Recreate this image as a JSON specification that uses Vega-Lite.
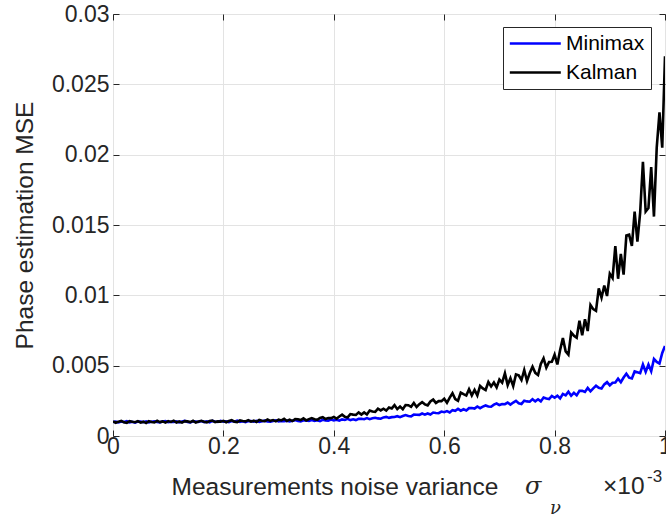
{
  "$schema": "https://vega.github.io/schema/vega-lite/v6.json",
  "width": 552,
  "height": 422,
  "autosize": {"type": "none"},
  "padding": {"left": 113, "top": 14, "right": 1, "bottom": 81},
  "background": "white",
  "config": {
    "view": {"stroke": "#262626", "strokeWidth": 1},
    "axis": {
      "labelFont": "Liberation Sans",
      "titleFont": "Liberation Sans",
      "labelColor": "#262626",
      "titleColor": "#262626",
      "tickColor": "#262626",
      "domain": false,
      "gridColor": "#e3e3e3",
      "gridWidth": 1,
      "titleFontWeight": "normal",
      "labelFontSize": 23,
      "titleFontSize": 24.5,
      "labelFlush": false
    },
    "text": {"font": "Liberation Sans", "color": "#262626"}
  },
  "datasets": {
    "mse": [
      {"x":0,"Minimax":0.00099,"Kalman":0.00104},
      {"x":0.005,"Minimax":0.00102,"Kalman":0.00094},
      {"x":0.01,"Minimax":0.00096,"Kalman":0.00102},
      {"x":0.015,"Minimax":0.00103,"Kalman":0.00107},
      {"x":0.02,"Minimax":0.00099,"Kalman":0.00097},
      {"x":0.025,"Minimax":0.00105,"Kalman":0.00093},
      {"x":0.03,"Minimax":0.00097,"Kalman":0.00105},
      {"x":0.035,"Minimax":0.00101,"Kalman":0.00101},
      {"x":0.04,"Minimax":0.00095,"Kalman":0.00098},
      {"x":0.045,"Minimax":0.00103,"Kalman":0.00106},
      {"x":0.05,"Minimax":0.00102,"Kalman":0.00095},
      {"x":0.055,"Minimax":0.00098,"Kalman":0.00102},
      {"x":0.06,"Minimax":0.00104,"Kalman":0.00092},
      {"x":0.065,"Minimax":0.00096,"Kalman":0.00106},
      {"x":0.07,"Minimax":0.00101,"Kalman":0.00100},
      {"x":0.075,"Minimax":0.00104,"Kalman":0.00096},
      {"x":0.08,"Minimax":0.00099,"Kalman":0.00108},
      {"x":0.085,"Minimax":0.00097,"Kalman":0.00099},
      {"x":0.09,"Minimax":0.00103,"Kalman":0.00104},
      {"x":0.095,"Minimax":0.00106,"Kalman":0.00095},
      {"x":0.1,"Minimax":0.00098,"Kalman":0.00106},
      {"x":0.105,"Minimax":0.00101,"Kalman":0.00100},
      {"x":0.11,"Minimax":0.00100,"Kalman":0.00109},
      {"x":0.115,"Minimax":0.00104,"Kalman":0.00096},
      {"x":0.12,"Minimax":0.00097,"Kalman":0.00103},
      {"x":0.125,"Minimax":0.00103,"Kalman":0.00095},
      {"x":0.13,"Minimax":0.00107,"Kalman":0.00106},
      {"x":0.135,"Minimax":0.00100,"Kalman":0.00104},
      {"x":0.14,"Minimax":0.00097,"Kalman":0.00099},
      {"x":0.145,"Minimax":0.00105,"Kalman":0.00108},
      {"x":0.15,"Minimax":0.00103,"Kalman":0.00096},
      {"x":0.155,"Minimax":0.00100,"Kalman":0.00103},
      {"x":0.16,"Minimax":0.00106,"Kalman":0.00108},
      {"x":0.165,"Minimax":0.00099,"Kalman":0.00101},
      {"x":0.17,"Minimax":0.00104,"Kalman":0.00097},
      {"x":0.175,"Minimax":0.00097,"Kalman":0.00106},
      {"x":0.18,"Minimax":0.00107,"Kalman":0.00110},
      {"x":0.185,"Minimax":0.00103,"Kalman":0.00099},
      {"x":0.19,"Minimax":0.00100,"Kalman":0.00104},
      {"x":0.195,"Minimax":0.00108,"Kalman":0.00102},
      {"x":0.2,"Minimax":0.00102,"Kalman":0.00108},
      {"x":0.205,"Minimax":0.00105,"Kalman":0.00098},
      {"x":0.21,"Minimax":0.00099,"Kalman":0.00107},
      {"x":0.215,"Minimax":0.00106,"Kalman":0.00112},
      {"x":0.22,"Minimax":0.00102,"Kalman":0.00102},
      {"x":0.225,"Minimax":0.00109,"Kalman":0.00099},
      {"x":0.23,"Minimax":0.00101,"Kalman":0.00111},
      {"x":0.235,"Minimax":0.00105,"Kalman":0.00107},
      {"x":0.24,"Minimax":0.00099,"Kalman":0.00104},
      {"x":0.245,"Minimax":0.00107,"Kalman":0.00113},
      {"x":0.25,"Minimax":0.00106,"Kalman":0.00102},
      {"x":0.255,"Minimax":0.00102,"Kalman":0.00109},
      {"x":0.26,"Minimax":0.00108,"Kalman":0.00100},
      {"x":0.265,"Minimax":0.00100,"Kalman":0.00114},
      {"x":0.27,"Minimax":0.00105,"Kalman":0.00109},
      {"x":0.275,"Minimax":0.00109,"Kalman":0.00105},
      {"x":0.28,"Minimax":0.00103,"Kalman":0.00117},
      {"x":0.285,"Minimax":0.00101,"Kalman":0.00108},
      {"x":0.29,"Minimax":0.00107,"Kalman":0.00113},
      {"x":0.295,"Minimax":0.00111,"Kalman":0.00104},
      {"x":0.3,"Minimax":0.00103,"Kalman":0.00116},
      {"x":0.305,"Minimax":0.00106,"Kalman":0.00111},
      {"x":0.31,"Minimax":0.00105,"Kalman":0.00122},
      {"x":0.315,"Minimax":0.00109,"Kalman":0.00107},
      {"x":0.32,"Minimax":0.00103,"Kalman":0.00116},
      {"x":0.325,"Minimax":0.00109,"Kalman":0.00106},
      {"x":0.33,"Minimax":0.00113,"Kalman":0.00120},
      {"x":0.335,"Minimax":0.00106,"Kalman":0.00119},
      {"x":0.34,"Minimax":0.00103,"Kalman":0.00113},
      {"x":0.345,"Minimax":0.00112,"Kalman":0.00125},
      {"x":0.35,"Minimax":0.00110,"Kalman":0.00111},
      {"x":0.355,"Minimax":0.00107,"Kalman":0.00120},
      {"x":0.36,"Minimax":0.00113,"Kalman":0.00127},
      {"x":0.365,"Minimax":0.00107,"Kalman":0.00119},
      {"x":0.37,"Minimax":0.00112,"Kalman":0.00115},
      {"x":0.375,"Minimax":0.00106,"Kalman":0.00128},
      {"x":0.38,"Minimax":0.00115,"Kalman":0.00134},
      {"x":0.385,"Minimax":0.00111,"Kalman":0.00121},
      {"x":0.39,"Minimax":0.00109,"Kalman":0.00128},
      {"x":0.395,"Minimax":0.00117,"Kalman":0.00127},
      {"x":0.4,"Minimax":0.00111,"Kalman":0.00135},
      {"x":0.405,"Minimax":0.00115,"Kalman":0.00123},
      {"x":0.41,"Minimax":0.00109,"Kalman":0.00139},
      {"x":0.415,"Minimax":0.00118,"Kalman":0.00152},
      {"x":0.42,"Minimax":0.00114,"Kalman":0.00136},
      {"x":0.425,"Minimax":0.00122,"Kalman":0.00132},
      {"x":0.43,"Minimax":0.00113,"Kalman":0.00156},
      {"x":0.435,"Minimax":0.00119,"Kalman":0.00152},
      {"x":0.44,"Minimax":0.00113,"Kalman":0.00150},
      {"x":0.445,"Minimax":0.00122,"Kalman":0.00168},
      {"x":0.45,"Minimax":0.00122,"Kalman":0.00152},
      {"x":0.455,"Minimax":0.00119,"Kalman":0.00168},
      {"x":0.46,"Minimax":0.00127,"Kalman":0.00153},
      {"x":0.465,"Minimax":0.00120,"Kalman":0.00181},
      {"x":0.47,"Minimax":0.00126,"Kalman":0.00174},
      {"x":0.475,"Minimax":0.00130,"Kalman":0.00171},
      {"x":0.48,"Minimax":0.00125,"Kalman":0.00194},
      {"x":0.485,"Minimax":0.00123,"Kalman":0.00182},
      {"x":0.49,"Minimax":0.00132,"Kalman":0.00194},
      {"x":0.495,"Minimax":0.00136,"Kalman":0.00181},
      {"x":0.5,"Minimax":0.00129,"Kalman":0.00203},
      {"x":0.505,"Minimax":0.00134,"Kalman":0.00196},
      {"x":0.51,"Minimax":0.00135,"Kalman":0.00220},
      {"x":0.515,"Minimax":0.00141,"Kalman":0.00191},
      {"x":0.52,"Minimax":0.00134,"Kalman":0.00209},
      {"x":0.525,"Minimax":0.00142,"Kalman":0.00190},
      {"x":0.53,"Minimax":0.00149,"Kalman":0.00220},
      {"x":0.535,"Minimax":0.00142,"Kalman":0.00219},
      {"x":0.54,"Minimax":0.00140,"Kalman":0.00207},
      {"x":0.545,"Minimax":0.00152,"Kalman":0.00234},
      {"x":0.55,"Minimax":0.00151,"Kalman":0.00206},
      {"x":0.555,"Minimax":0.00150,"Kalman":0.00226},
      {"x":0.56,"Minimax":0.00160,"Kalman":0.00241},
      {"x":0.565,"Minimax":0.00152,"Kalman":0.00225},
      {"x":0.57,"Minimax":0.00160,"Kalman":0.00218},
      {"x":0.575,"Minimax":0.00153,"Kalman":0.00246},
      {"x":0.58,"Minimax":0.00167,"Kalman":0.00259},
      {"x":0.585,"Minimax":0.00164,"Kalman":0.00235},
      {"x":0.59,"Minimax":0.00162,"Kalman":0.00248},
      {"x":0.595,"Minimax":0.00174,"Kalman":0.00248},
      {"x":0.6,"Minimax":0.00169,"Kalman":0.00265},
      {"x":0.605,"Minimax":0.00177,"Kalman":0.00236},
      {"x":0.61,"Minimax":0.00167,"Kalman":0.00273},
      {"x":0.615,"Minimax":0.00184,"Kalman":0.00304},
      {"x":0.62,"Minimax":0.00179,"Kalman":0.00263},
      {"x":0.625,"Minimax":0.00193,"Kalman":0.00251},
      {"x":0.63,"Minimax":0.00180,"Kalman":0.00309},
      {"x":0.635,"Minimax":0.00190,"Kalman":0.00298},
      {"x":0.64,"Minimax":0.00182,"Kalman":0.00288},
      {"x":0.645,"Minimax":0.00198,"Kalman":0.00333},
      {"x":0.65,"Minimax":0.00199,"Kalman":0.00289},
      {"x":0.655,"Minimax":0.00195,"Kalman":0.00328},
      {"x":0.66,"Minimax":0.00210,"Kalman":0.00289},
      {"x":0.665,"Minimax":0.00198,"Kalman":0.00356},
      {"x":0.67,"Minimax":0.00209,"Kalman":0.00338},
      {"x":0.675,"Minimax":0.00217,"Kalman":0.00327},
      {"x":0.68,"Minimax":0.00210,"Kalman":0.00384},
      {"x":0.685,"Minimax":0.00208,"Kalman":0.00352},
      {"x":0.69,"Minimax":0.00223,"Kalman":0.00380},
      {"x":0.695,"Minimax":0.00231,"Kalman":0.00345},
      {"x":0.7,"Minimax":0.00220,"Kalman":0.00401},
      {"x":0.705,"Minimax":0.00227,"Kalman":0.00379},
      {"x":0.71,"Minimax":0.00226,"Kalman":0.00445},
      {"x":0.715,"Minimax":0.00238,"Kalman":0.00362},
      {"x":0.72,"Minimax":0.00223,"Kalman":0.00411},
      {"x":0.725,"Minimax":0.00238,"Kalman":0.00355},
      {"x":0.73,"Minimax":0.00250,"Kalman":0.00438},
      {"x":0.735,"Minimax":0.00233,"Kalman":0.00432},
      {"x":0.74,"Minimax":0.00228,"Kalman":0.00398},
      {"x":0.745,"Minimax":0.00251,"Kalman":0.00469},
      {"x":0.75,"Minimax":0.00246,"Kalman":0.00391},
      {"x":0.755,"Minimax":0.00244,"Kalman":0.00448},
      {"x":0.76,"Minimax":0.00262,"Kalman":0.00493},
      {"x":0.765,"Minimax":0.00246,"Kalman":0.00449},
      {"x":0.77,"Minimax":0.00261,"Kalman":0.00434},
      {"x":0.775,"Minimax":0.00246,"Kalman":0.00512},
      {"x":0.78,"Minimax":0.00273,"Kalman":0.00552},
      {"x":0.785,"Minimax":0.00266,"Kalman":0.00486},
      {"x":0.79,"Minimax":0.00262,"Kalman":0.00526},
      {"x":0.795,"Minimax":0.00285,"Kalman":0.00527},
      {"x":0.8,"Minimax":0.00272,"Kalman":0.00578},
      {"x":0.805,"Minimax":0.00287,"Kalman":0.00509},
      {"x":0.81,"Minimax":0.00267,"Kalman":0.00612},
      {"x":0.815,"Minimax":0.00299,"Kalman":0.00697},
      {"x":0.82,"Minimax":0.00289,"Kalman":0.00602},
      {"x":0.825,"Minimax":0.00315,"Kalman":0.00579},
      {"x":0.83,"Minimax":0.00287,"Kalman":0.00736},
      {"x":0.835,"Minimax":0.00307,"Kalman":0.00713},
      {"x":0.84,"Minimax":0.00289,"Kalman":0.00699},
      {"x":0.845,"Minimax":0.00321,"Kalman":0.00820},
      {"x":0.85,"Minimax":0.00321,"Kalman":0.00716},
      {"x":0.855,"Minimax":0.00313,"Kalman":0.00830},
      {"x":0.86,"Minimax":0.00342,"Kalman":0.00746},
      {"x":0.865,"Minimax":0.00318,"Kalman":0.00932},
      {"x":0.87,"Minimax":0.00339,"Kalman":0.00902},
      {"x":0.875,"Minimax":0.00357,"Kalman":0.00890},
      {"x":0.88,"Minimax":0.00342,"Kalman":0.01049},
      {"x":0.885,"Minimax":0.00338,"Kalman":0.00983},
      {"x":0.89,"Minimax":0.00367,"Kalman":0.01070},
      {"x":0.895,"Minimax":0.00383,"Kalman":0.00995},
      {"x":0.9,"Minimax":0.00360,"Kalman":0.01154},
      {"x":0.905,"Minimax":0.00378,"Kalman":0.01123},
      {"x":0.91,"Minimax":0.00380,"Kalman":0.01350},
      {"x":0.915,"Minimax":0.00408,"Kalman":0.01118},
      {"x":0.92,"Minimax":0.00382,"Kalman":0.01294},
      {"x":0.925,"Minimax":0.00416,"Kalman":0.01147},
      {"x":0.93,"Minimax":0.00443,"Kalman":0.01425},
      {"x":0.935,"Minimax":0.00415,"Kalman":0.01431},
      {"x":0.94,"Minimax":0.00409,"Kalman":0.01352},
      {"x":0.945,"Minimax":0.00459,"Kalman":0.01596},
      {"x":0.95,"Minimax":0.00453,"Kalman":0.01381},
      {"x":0.955,"Minimax":0.00447,"Kalman":0.01588},
      {"x":0.96,"Minimax":0.00508,"Kalman":0.01950},
      {"x":0.965,"Minimax":0.00456,"Kalman":0.01596},
      {"x":0.97,"Minimax":0.00508,"Kalman":0.01620},
      {"x":0.975,"Minimax":0.00460,"Kalman":0.01912},
      {"x":0.98,"Minimax":0.00548,"Kalman":0.01560},
      {"x":0.985,"Minimax":0.00527,"Kalman":0.02050},
      {"x":0.99,"Minimax":0.00515,"Kalman":0.02300},
      {"x":0.995,"Minimax":0.00590,"Kalman":0.02050},
      {"x":1,"Minimax":0.00640,"Kalman":0.02700}
    ],
    "one": [{}]
  },
  "resolve": {"axis": {"x": "independent", "y": "independent"}},
  "layer": [
    {
      "data": {"name": "mse"},
      "mark": {"type": "line", "strokeWidth": 2.6, "clip": true},
      "encoding": {
        "x": {
          "field": "x", "type": "quantitative",
          "scale": {"domain": [0, 1], "nice": false, "zero": false},
          "axis": {
            "orient": "bottom",
            "values": [0, 0.2, 0.4, 0.6, 0.8, 1],
            "format": "~g",
            "tickSize": -6,
            "labelPadding": 5,
            "grid": true,
            "title": "Measurements noise variance",
            "titleX": 58, "titleY": 58,
            "titleAlign": "left", "titleBaseline": "alphabetic"
          }
        },
        "y": {
          "field": "Minimax", "type": "quantitative",
          "scale": {"domain": [0, 0.03], "nice": false},
          "axis": {
            "orient": "left",
            "values": [0, 0.005, 0.01, 0.015, 0.02, 0.025, 0.03],
            "format": "~g",
            "tickSize": -6,
            "labelPadding": 10,
            "grid": true,
            "title": "Phase estimation MSE",
            "titleX": -81, "titleY": 211,
            "titleAlign": "center", "titleBaseline": "alphabetic"
          }
        },
        "color": {
          "datum": "Minimax", "type": "nominal",
          "scale": {"domain": ["Minimax", "Kalman"], "range": ["#0000ff", "#000000"]},
          "legend": {
            "orient": "none", "legendX": 390, "legendY": 13,
            "title": null,
            "symbolType": "M-1.9,0H8.1", "symbolSize": 104, "symbolStrokeWidth": 2.5,
            "labelFont": "Liberation Sans", "labelFontSize": 21, "labelColor": "#000000",
            "labelOffset": 36, "rowPadding": 7, "padding": 6,
            "strokeColor": "#262626", "fillColor": "white", "cornerRadius": 0
          }
        }
      }
    },
    {
      "data": {"name": "mse"},
      "mark": {"type": "line", "strokeWidth": 2.6, "clip": true},
      "encoding": {
        "x": {
          "field": "x", "type": "quantitative",
          "axis": {"orient": "top", "values": [0, 0.2, 0.4, 0.6, 0.8, 1], "labels": false, "tickSize": -6, "grid": false, "title": null}
        },
        "y": {
          "field": "Kalman", "type": "quantitative",
          "axis": {"orient": "right", "values": [0, 0.005, 0.01, 0.015, 0.02, 0.025, 0.03], "labels": false, "tickSize": -6, "grid": false, "title": null}
        },
        "color": {"datum": "Kalman", "type": "nominal"}
      }
    },
    {
      "data": {"name": "one"},
      "mark": {"type": "text", "text": "σ", "font": "DejaVu Serif", "fontStyle": "italic", "fontSize": 24, "align": "left", "baseline": "alphabetic", "dx": -140, "dy": 58, "color": "#262626"},
      "encoding": {"x": {"datum": 1, "type": "quantitative", "axis": null}, "y": {"datum": 0, "type": "quantitative", "axis": null}}
    },
    {
      "data": {"name": "one"},
      "mark": {"type": "text", "text": "ν", "font": "DejaVu Serif", "fontStyle": "italic", "fontSize": 18, "align": "left", "baseline": "alphabetic", "dx": -115, "dy": 78, "color": "#262626"},
      "encoding": {"x": {"datum": 1, "type": "quantitative", "axis": null}, "y": {"datum": 0, "type": "quantitative", "axis": null}}
    },
    {
      "data": {"name": "one"},
      "mark": {"type": "text", "text": "×10", "fontSize": 24.5, "align": "left", "baseline": "alphabetic", "dx": -62, "dy": 58, "color": "#262626"},
      "encoding": {"x": {"datum": 1, "type": "quantitative", "axis": null}, "y": {"datum": 0, "type": "quantitative", "axis": null}}
    },
    {
      "data": {"name": "one"},
      "mark": {"type": "text", "text": "-3", "fontSize": 17, "align": "left", "baseline": "alphabetic", "dx": -18, "dy": 46, "color": "#262626"},
      "encoding": {"x": {"datum": 1, "type": "quantitative", "axis": null}, "y": {"datum": 0, "type": "quantitative", "axis": null}}
    }
  ]
}
